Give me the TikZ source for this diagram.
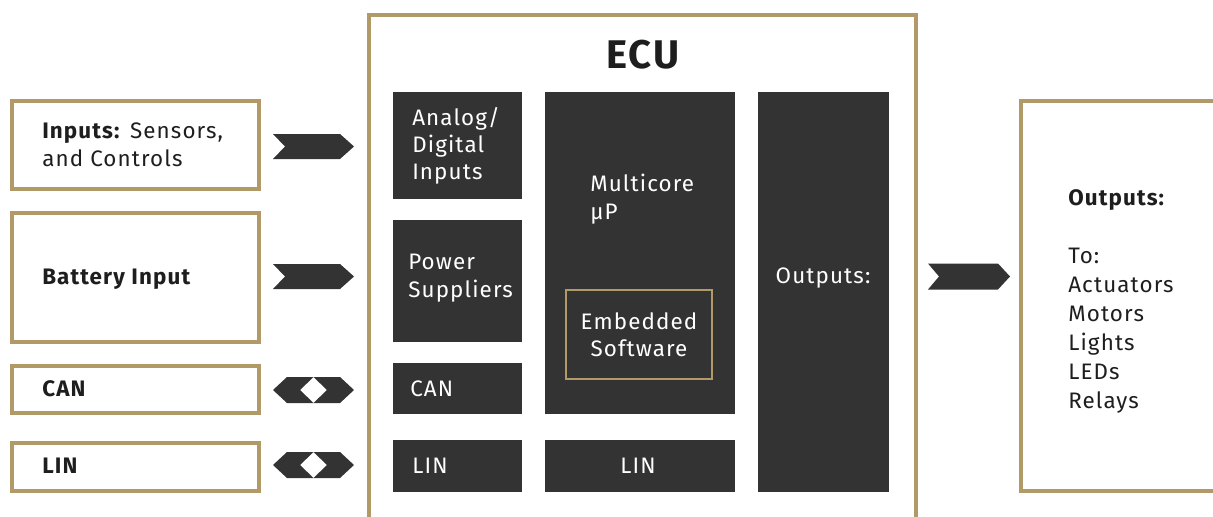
\documentclass[tikz,border=0pt]{standalone}
\usepackage{fontspec}
\setmainfont{Fira Sans}[LetterSpace=5]
\usetikzlibrary{fit}
\definecolor{gold}{RGB}{178,154,104}
\definecolor{dark}{RGB}{51,51,51}
\definecolor{ink}{RGB}{30,30,30}
\tikzset{
  goldbox/.style={draw=gold, line width=2.4pt, fill=white, inner sep=0pt},
  darkbox/.style={fill=dark, draw=none, inner sep=0pt},
  txt/.style={font=\fontsize{16.8}{21}\selectfont, text=ink, inner sep=0pt, anchor=west, align=left},
  wtxt/.style={font=\fontsize{16.8}{20.5}\selectfont, text=white, inner sep=0pt, align=left},
  chev/.style={fill=dark, draw=none},
}
\begin{document}
\begin{tikzpicture}[x=0.75pt,y=-0.75pt]
\useasboundingbox (0,0) rectangle (1213,517);
\clip (0,0) rectangle (1213,517);
% left boxes
\node[goldbox, fit={(12,101)(259,189)}] (inp) {};
\node[goldbox, fit={(12,213)(259,342)}] (bat) {};
\node[goldbox, fit={(12,366)(259,413)}] (can) {};
\node[goldbox, fit={(12,443)(259,491)}] (lin) {};
\node[txt] (inpT) at (42,145) {\textbf{Inputs:} Sensors,\\and Controls};
\node[txt] (batT) at (42,279) {\textbf{Battery Input}};
\node[txt] (canT) at (42,389) {\textbf{CAN}};
\node[txt] (linT) at (42,466) {\textbf{LIN}};
% ECU
\node[goldbox, fit={(369,15)(916,540)}] (ecu) {};
\node[font=\fontsize{30}{32}\selectfont\bfseries, text=ink, inner sep=0pt] (ecuT) at (643,55) {ECU};
\node[darkbox, fit={(393,92)(522,199)}] (adi) {};
\node[darkbox, fit={(393,220)(522,342)}] (pow) {};
\node[darkbox, fit={(393,363)(522,414)}] (ecan) {};
\node[darkbox, fit={(393,440)(522,492)}] (elin) {};
\node[darkbox, fit={(545,92)(735,414)}] (mcu) {};
\node[darkbox, fit={(545,440)(735,492)}] (mlin) {};
\node[darkbox, fit={(758,92)(889,492)}] (outs) {};
\node[draw=gold, line width=1.8pt, inner sep=0pt, fit={(566,290)(712,379)}] (emb) {};
\node[wtxt, anchor=west] (adiT) at (412,146) {Analog/\\Digital\\Inputs};
\node[wtxt, anchor=west] (powT) at (408,278) {Power\\Suppliers};
\node[wtxt, anchor=west] (ecanT) at (410,389) {CAN};
\node[wtxt, anchor=west] (elinT) at (412,466) {LIN};
\node[wtxt, anchor=west] (mcuT) at (590,199) {Multicore\\μP};
\node[wtxt, align=center] (embT) at (639,335) {Embedded\\Software};
\node[wtxt] (mlinT) at (638,466) {LIN};
\node[wtxt] (outsT) at (823,278) {Outputs:};
% right box
\node[goldbox, fit={(1021,101)(1240,491)}] (out) {};
\node[txt, anchor=north west, font=\fontsize{16.8}{21.75}\selectfont] (outT) at (1068,189)
  {\textbf{Outputs:}\\[21.75pt]To:\\Actuators\\Motors\\Lights\\LEDs\\Relays};
% chevrons
\foreach \y/\n in {146.5/c1, 276.5/c2}{
  \coordinate (\n) at (273,\y);
  \fill[dark] (\n) ++(0,-12.5) -- ++(67,0) -- ++(14,12.5) -- ++(-14,12.5) -- ++(-67,0) -- ++(12,-12.5) -- cycle;
}
\coordinate (c3) at (928,276.5);
\fill[dark] (c3) ++(0,-13) -- ++(70,0) -- ++(12,13) -- ++(-12,13) -- ++(-70,0) -- ++(11,-13) -- cycle;
% double arrows
\foreach \y/\n in {390/d1, 465/d2}{
  \coordinate (\n) at (313.5,\y);
  \fill[dark, even odd rule] (\n) ++(-40.5,0) -- ++(14,-13) -- ++(53,0) -- ++(14,13) -- ++(-14,13) -- ++(-53,0) -- cycle
    (\n) ++(-13.5,0) -- ++(13.5,-13) -- ++(13.5,13) -- ++(-13.5,13) -- cycle;
}
\end{tikzpicture}
\end{document}
